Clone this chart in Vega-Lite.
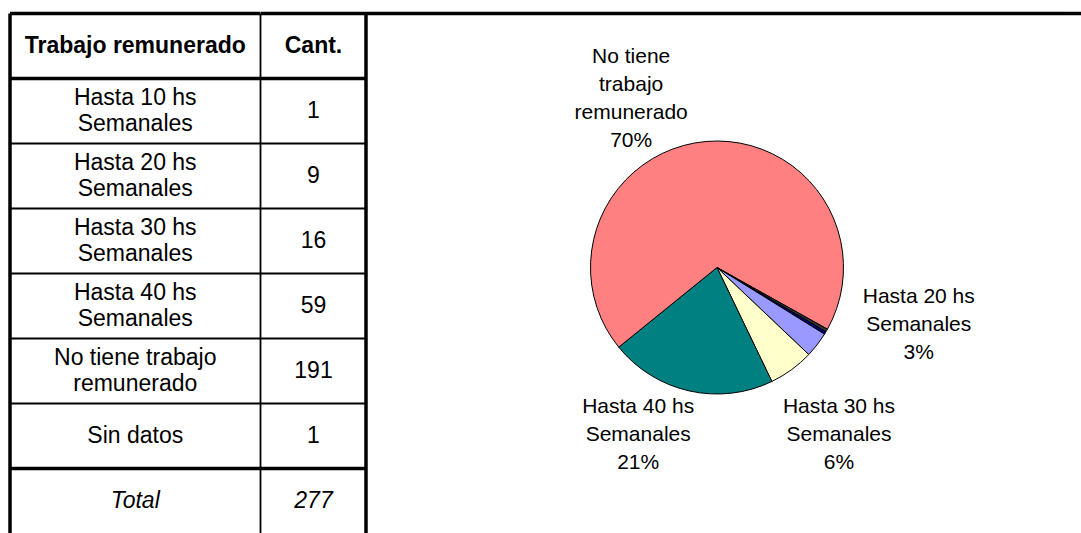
{
  "$schema": "https://vega.github.io/schema/vega-lite/v6.json",
  "background": "white",
  "padding": {"left": 8, "top": 11.5, "right": 0, "bottom": 0},
  "bounds": "flush",
  "spacing": 0,
  "config": {"view": {"stroke": null}, "font": "Liberation Sans"},
  "datasets": {
    "tabla": [
      {"fila": 0, "trabajo": "Trabajo remunerado", "cant": "Cant."},
      {"fila": 1, "trabajo": "Hasta 10 hs\nSemanales", "cant": "1"},
      {"fila": 2, "trabajo": "Hasta 20 hs\nSemanales", "cant": "9"},
      {"fila": 3, "trabajo": "Hasta 30 hs\nSemanales", "cant": "16"},
      {"fila": 4, "trabajo": "Hasta 40 hs\nSemanales", "cant": "59"},
      {"fila": 5, "trabajo": "No tiene trabajo\nremunerado", "cant": "191"},
      {"fila": 6, "trabajo": "Sin datos", "cant": "1"},
      {"fila": 7, "trabajo": "Total", "cant": "277"}
    ],
    "torta": [
      {"orden": 1, "categoria": "Hasta 10 hs Semanales", "cantidad": 1, "etiqueta": ""},
      {"orden": 2, "categoria": "Hasta 20 hs Semanales", "cantidad": 9, "etiqueta": "Hasta 20 hs\nSemanales\n3%"},
      {"orden": 3, "categoria": "Hasta 30 hs Semanales", "cantidad": 16, "etiqueta": "Hasta 30 hs\nSemanales\n6%"},
      {"orden": 4, "categoria": "Hasta 40 hs Semanales", "cantidad": 59, "etiqueta": "Hasta 40 hs\nSemanales\n21%"},
      {"orden": 5, "categoria": "No tiene trabajo remunerado", "cantidad": 191, "etiqueta": "No tiene\ntrabajo\nremunerado\n70%"},
      {"orden": 6, "categoria": "Sin datos", "cantidad": 1, "etiqueta": ""}
    ]
  },
  "hconcat": [
    {
      "width": 250.5,
      "height": 520,
      "data": {"name": "tabla"},
      "encoding": {
        "y": {"field": "fila", "type": "ordinal", "axis": null, "scale": {"domain": [0,1,2,3,4,5,6,7], "paddingInner": 0, "paddingOuter": 0}}
      },
      "layer": [
        {
          "transform": [{"filter": "datum.fila >= 2 && datum.fila <= 6"}],
          "mark": {"type": "rule", "color": "black", "strokeWidth": 1.8},
          "encoding": {"y": {"field": "fila", "type": "ordinal", "bandPosition": 0, "axis": null}}
        },
        {
          "transform": [{"filter": "datum.fila == 0 || datum.fila == 1 || datum.fila == 7"}],
          "mark": {"type": "rule", "color": "black", "strokeWidth": 3.5},
          "encoding": {"y": {"field": "fila", "type": "ordinal", "bandPosition": 0, "axis": null}}
        },
        {
          "data": {"values": [{}]},
          "mark": {"type": "rule", "color": "black", "strokeWidth": 3.5},
          "encoding": {"y": null, "x": {"datum": 0, "type": "quantitative", "axis": null, "scale": {"domain": [0, 1]}}}
        },
        {
          "data": {"values": [{}]},
          "mark": {"type": "rule", "color": "black", "strokeWidth": 1.8},
          "encoding": {"y": null, "x": {"datum": 1, "type": "quantitative", "axis": null, "scale": {"domain": [0, 1]}}}
        },
        {
          "transform": [{"filter": "datum.fila >= 1 && datum.fila <= 5"}],
          "mark": {"type": "text", "fontSize": 23, "lineBreak": "\n", "lineHeight": 26, "dy": -13, "align": "center", "baseline": "middle", "color": "black"},
          "encoding": {"text": {"field": "trabajo"}}
        },
        {
          "transform": [{"filter": "datum.fila == 6"}],
          "mark": {"type": "text", "fontSize": 23, "align": "center", "baseline": "middle", "color": "black"},
          "encoding": {"text": {"field": "trabajo"}}
        },
        {
          "transform": [{"filter": "datum.fila == 0"}],
          "mark": {"type": "text", "fontSize": 23, "fontWeight": "bold", "align": "center", "baseline": "middle", "color": "black"},
          "encoding": {"text": {"field": "trabajo"}}
        },
        {
          "transform": [{"filter": "datum.fila == 7"}],
          "mark": {"type": "text", "fontSize": 23, "fontStyle": "italic", "align": "center", "baseline": "middle", "color": "black"},
          "encoding": {"text": {"field": "trabajo"}}
        }
      ]
    },
    {
      "width": 105,
      "height": 520,
      "data": {"name": "tabla"},
      "encoding": {
        "y": {"field": "fila", "type": "ordinal", "axis": null, "scale": {"domain": [0,1,2,3,4,5,6,7], "paddingInner": 0, "paddingOuter": 0}}
      },
      "layer": [
        {
          "transform": [{"filter": "datum.fila >= 2 && datum.fila <= 6"}],
          "mark": {"type": "rule", "color": "black", "strokeWidth": 1.8},
          "encoding": {"y": {"field": "fila", "type": "ordinal", "bandPosition": 0, "axis": null}}
        },
        {
          "transform": [{"filter": "datum.fila == 0 || datum.fila == 1 || datum.fila == 7"}],
          "mark": {"type": "rule", "color": "black", "strokeWidth": 3.5},
          "encoding": {"y": {"field": "fila", "type": "ordinal", "bandPosition": 0, "axis": null}}
        },
        {
          "data": {"values": [{}]},
          "mark": {"type": "rule", "color": "black", "strokeWidth": 3.5},
          "encoding": {"y": null, "x": {"datum": 1, "type": "quantitative", "axis": null, "scale": {"domain": [0, 1]}}}
        },
        {
          "transform": [{"filter": "datum.fila >= 1 && datum.fila <= 6"}],
          "mark": {"type": "text", "fontSize": 23, "align": "center", "baseline": "middle", "color": "black"},
          "encoding": {"text": {"field": "cant"}}
        },
        {
          "transform": [{"filter": "datum.fila == 0"}],
          "mark": {"type": "text", "fontSize": 23, "fontWeight": "bold", "align": "center", "baseline": "middle", "color": "black"},
          "encoding": {"text": {"field": "cant"}}
        },
        {
          "transform": [{"filter": "datum.fila == 7"}],
          "mark": {"type": "text", "fontSize": 23, "fontStyle": "italic", "align": "center", "baseline": "middle", "color": "black"},
          "encoding": {"text": {"field": "cant"}}
        }
      ]
    },
    {
      "width": 702,
      "height": 508,
      "data": {"name": "torta"},
      "encoding": {
        "theta": {"field": "cantidad", "type": "quantitative", "stack": true, "scale": {"range": [2.1031, 8.3863]}},
        "order": {"field": "orden", "type": "quantitative"}
      },
      "layer": [
        {
          "data": {"values": [{}]},
          "mark": {"type": "rule", "color": "black", "strokeWidth": 3.5},
          "encoding": {"theta": null, "order": null, "y": {"datum": 1, "type": "quantitative", "axis": null, "scale": {"domain": [0, 1]}}}
        },
        {
          "mark": {"type": "arc", "outerRadius": 126.5, "stroke": "black", "strokeWidth": 1},
          "encoding": {
            "color": {
              "field": "categoria", "type": "nominal", "legend": null,
              "scale": {
                "domain": ["Hasta 10 hs Semanales", "Hasta 20 hs Semanales", "Hasta 30 hs Semanales", "Hasta 40 hs Semanales", "No tiene trabajo remunerado", "Sin datos"],
                "range": ["#000080", "#9999FF", "#FFFFCC", "#008080", "#FF8080", "#333333"]
              }
            }
          }
        },
        {
          "mark": {"type": "text", "radius": 150, "dx": -73, "dy": -61, "fontSize": 21, "lineBreak": "\n", "lineHeight": 28, "align": "center", "baseline": "middle", "color": "black"},
          "encoding": {"text": {"condition": {"test": "datum.orden == 5", "field": "etiqueta"}, "value": ""}}
        },
        {
          "mark": {"type": "text", "radius": 150, "dx": 83, "dy": -62, "fontSize": 21, "lineBreak": "\n", "lineHeight": 28, "align": "center", "baseline": "middle", "color": "black"},
          "encoding": {"text": {"condition": {"test": "datum.orden == 2", "field": "etiqueta"}, "value": ""}}
        },
        {
          "mark": {"type": "text", "radius": 207, "dy": -28, "fontSize": 21, "lineBreak": "\n", "lineHeight": 28, "align": "center", "baseline": "middle", "color": "black"},
          "encoding": {"text": {"condition": {"test": "datum.orden == 3", "field": "etiqueta"}, "value": ""}}
        },
        {
          "mark": {"type": "text", "radius": 150, "dx": -46, "dy": -7, "fontSize": 21, "lineBreak": "\n", "lineHeight": 28, "align": "center", "baseline": "middle", "color": "black"},
          "encoding": {"text": {"condition": {"test": "datum.orden == 4", "field": "etiqueta"}, "value": ""}}
        }
      ]
    },
    {
      "width": 14,
      "height": 10,
      "data": {"values": [{}]},
      "mark": {"type": "rule", "color": "black", "strokeWidth": 3.5},
      "encoding": {"y": {"datum": 1, "type": "quantitative", "axis": null, "scale": {"domain": [0, 1]}}}
    }
  ]
}
